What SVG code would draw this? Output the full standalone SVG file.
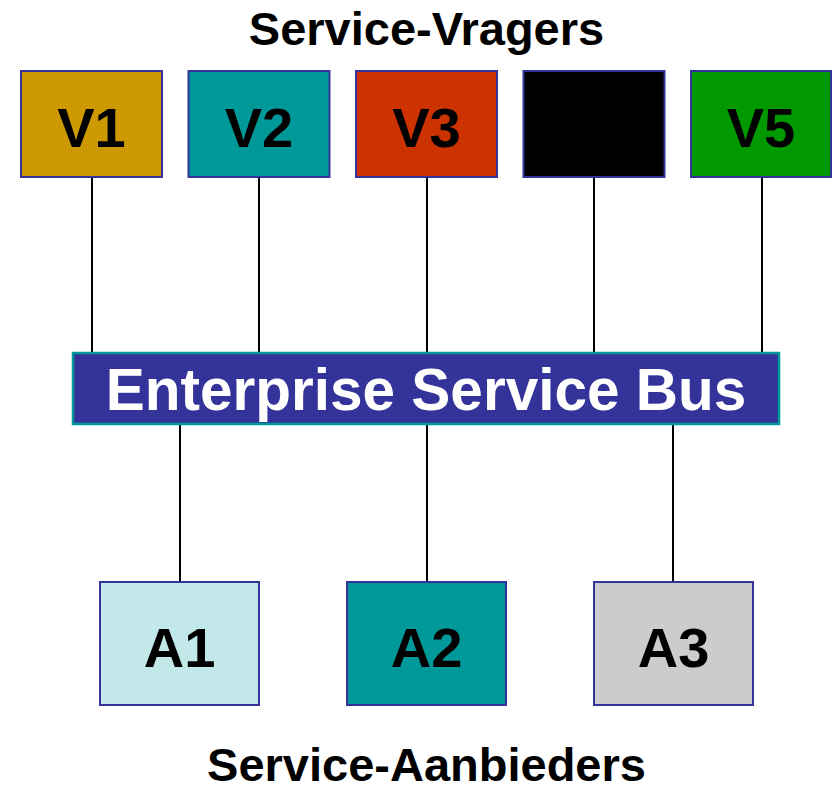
<svg xmlns="http://www.w3.org/2000/svg" width="832" height="790" viewBox="0 0 832 790">
<style>
.box{stroke:#333399;stroke-width:2}
.lbl{font-family:"Liberation Sans",Arial,sans-serif;font-weight:bold;font-size:56px;fill:#000;text-anchor:middle}
.title{font-family:"Liberation Sans",Arial,sans-serif;font-weight:bold;font-size:47px;fill:#000;text-anchor:middle}
.conn line{stroke:#000;stroke-width:2}
</style>
<rect width="832" height="790" fill="#fff"/>
<text class="title" x="426.5" y="45">Service-Vragers</text>
<text class="title" x="426.5" y="781">Service-Aanbieders</text>
<g id="connectors" class="conn">
<line x1="92" y1="177" x2="92" y2="353"/>
<line x1="259" y1="177" x2="259" y2="353"/>
<line x1="427" y1="177" x2="427" y2="353"/>
<line x1="594" y1="177" x2="594" y2="353"/>
<line x1="762" y1="177" x2="762" y2="353"/>
<line x1="180" y1="424" x2="180" y2="582"/>
<line x1="427" y1="424" x2="427" y2="582"/>
<line x1="673" y1="424" x2="673" y2="582"/>
</g>
<g id="V1"><rect class="box" x="21" y="71" width="141" height="106" fill="#CC9900"/><text class="lbl" x="91.5" y="147">V1</text></g>
<g id="V2"><rect class="box" x="188.5" y="71" width="141" height="106" fill="#009999"/><text class="lbl" x="259" y="147">V2</text></g>
<g id="V3"><rect class="box" x="356" y="71" width="141" height="106" fill="#CC3300"/><text class="lbl" x="426.5" y="147">V3</text></g>
<g id="V4"><rect class="box" x="523.5" y="71" width="141" height="106" fill="#000000"/></g>
<g id="V5"><rect class="box" x="691" y="71" width="140" height="106" fill="#009900"/><text class="lbl" x="761" y="147">V5</text></g>
<g id="ESB"><rect x="73" y="353" width="706" height="71" fill="#333399" stroke="#009999" stroke-width="2.5"/><text x="426" y="410" font-family="Liberation Sans,Arial,sans-serif" font-weight="bold" font-size="58.5" fill="#fff" text-anchor="middle">Enterprise Service Bus</text></g>
<g id="A1"><rect class="box" x="100" y="582" width="159" height="123" fill="#C2E8EA"/><text class="lbl" x="179.5" y="667">A1</text></g>
<g id="A2"><rect class="box" x="347" y="582" width="159" height="123" fill="#009999"/><text class="lbl" x="426.5" y="667">A2</text></g>
<g id="A3"><rect class="box" x="594" y="582" width="159" height="123" fill="#CCCCCC"/><text class="lbl" x="673.5" y="667">A3</text></g>
</svg>
